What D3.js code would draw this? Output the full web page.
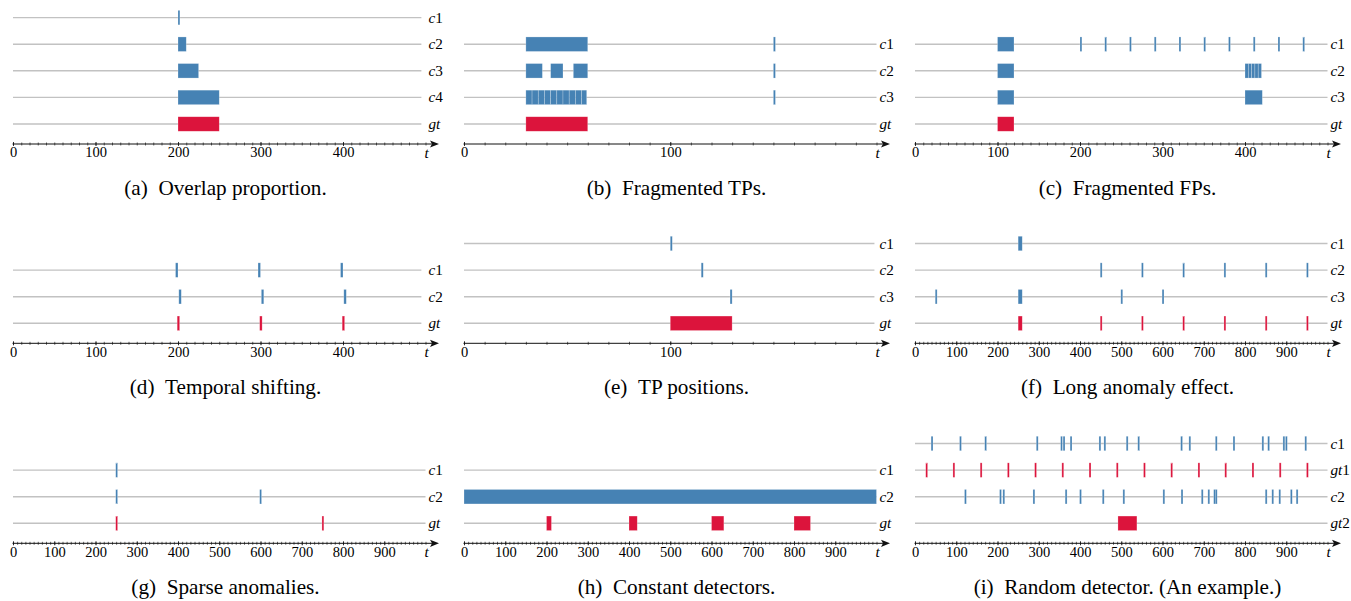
<!DOCTYPE html>
<html>
<head>
<meta charset="utf-8">
<script src="https://cdn.jsdelivr.net/npm/d3@7"></script>
<style>
  body { margin: 0; background: #fff; }
  svg text { font-family: "Liberation Serif", "Times New Roman", Times, serif; }
</style>
</head>
<body>
<svg id="chart" width="1351" height="601"></svg>
<script>
// ---- data ----
const captionTags = ["(a)", "(b)", "(c)", "(d)", "(e)", "(f)", "(g)", "(h)", "(i)"];
const captionTexts = ["Overlap proportion.", "Fragmented TPs.", "Fragmented FPs.",
                      "Temporal shifting.", "TP positions.", "Long anomaly effect.",
                      "Sparse anomalies.", "Constant detectors.", "Random detector. (An example.)"];

// time axis length and where the grey row lines stop
const axisMax = [500, 200, 500, 500, 200, 1000, 1000, 1000, 1000];
const lineEnd = [495, 200, 500, 495, 199, 1000, 1000, 1000, 1000];

const ticks500 = [0, 100, 200, 300, 400];
const ticks200 = [0, 100];
const ticks1000 = [0, 100, 200, 300, 400, 500, 600, 700, 800, 900];
const tickLabels = [ticks500, ticks200, ticks500, ticks500, ticks200, ticks1000, ticks1000, ticks1000, ticks1000];

const rowsA = ["c1", "c2", "c3", "c4", "gt"];
const rowsB = ["c1", "c2", "c3", "gt"];
const rowsC = ["c1", "c2", "c3", "gt"];
const rowsD = ["c1", "c2", "gt"];
const rowsE = ["c1", "c2", "c3", "gt"];
const rowsF = ["c1", "c2", "c3", "gt"];
const rowsG = ["c1", "c2", "gt"];
const rowsH = ["c1", "c2", "gt"];
const rowsI = ["c1", "gt1", "c2", "gt2"];

// detections per row as [start, end] intervals
const marksA = [
  [[200, 201]],
  [[200, 210]],
  [[200, 225]],
  [[200, 250]],
  [[200, 250]]
];
const marksB = [
  [[30, 60], [150, 151]],
  [[30, 38], [42, 48], [53, 60], [150, 151]],
  [[30, 33], [33, 36], [36, 39], [39, 42], [42, 45], [45, 48], [48, 51], [51, 54], [54, 57], [57, 59.5], [150, 151]],
  [[30, 60]]
];
const marksC = [
  [[100, 120], [200, 201], [230, 231], [260, 261], [290, 291], [320, 321], [350, 351], [380, 381], [410, 411], [440, 441], [470, 471]],
  [[100, 120], [400, 404], [404, 408], [408, 412], [412, 416], [416, 420]],
  [[100, 120], [400, 421]],
  [[100, 120]]
];
const marksD = [
  [[197, 200], [297, 300], [397, 400]],
  [[201, 204], [301, 304], [401, 404]],
  [[199, 202], [299, 302], [399, 402]]
];
const marksE = [
  [[100, 101]],
  [[115, 116]],
  [[129, 130]],
  [[100, 130]]
];
const marksF = [
  [[250, 260]],
  [[449, 452], [549, 552], [649, 652], [749, 752], [849, 852], [949, 952]],
  [[49, 52], [250, 260], [499, 502], [599, 602]],
  [[250, 260], [449, 452], [549, 552], [649, 652], [749, 752], [849, 852], [949, 952]]
];
const marksG = [
  [[249, 252]],
  [[249, 252], [598, 602]],
  [[249, 252], [749, 752]]
];
const marksH = [
  [],
  [[0, 1000]],
  [[200, 212], [400, 420], [600, 630], [800, 840]]
];
const marksI = [
  [[39, 42], [108, 111], [169, 172], [294, 297], [353, 356], [359, 362], [376, 379], [446, 449], [458, 461], [512, 515],
   [540, 543], [644, 647], [664, 667], [728, 731], [771, 774], [841, 844], [855, 858], [892, 895], [898, 901], [945, 948]],
  [[26, 29], [92, 95], [158, 161], [224, 227], [290, 293], [356, 359], [422, 425], [488, 491], [554, 557], [620, 623],
   [686, 689], [751, 754], [817, 820], [883, 886], [949, 952]],
  [[120, 123], [205, 208], [213, 216], [286, 289], [364, 367], [399, 402], [454, 457], [504, 507], [601, 604], [645, 648],
   [694, 697], [710, 713], [724, 727], [728, 731], [849, 852], [865, 868], [882, 885], [910, 913], [924, 927]],
  [[492, 538]]
];

const panelRows = [rowsA, rowsB, rowsC, rowsD, rowsE, rowsF, rowsG, rowsH, rowsI];
const panelMarks = [marksA, marksB, marksC, marksD, marksE, marksF, marksG, marksH, marksI];

// ---- layout ----
const colX0 = [13, 464, 915];
const colMid = [225.5, 676.5, 1127.5];
const axisY = [144, 343.3, 543.3];
const plotW = 412.5;
const rowGap = 26.6;
const gtOffset = 20;
const barH = 14.5;
const blue = "#4682b4", red = "#dc143c";

const svg = d3.select("#chart");

panelRows.forEach((rows, k) => {
  const col = k % 3, r = Math.floor(k / 3);
  const x0 = colX0[col], ay = axisY[r];
  const x = d3.scaleLinear().domain([0, axisMax[k]]).range([x0, x0 + plotW]);
  const n = rows.length;
  const rowY = i => ay - gtOffset - (n - 1 - i) * rowGap;
  const g = svg.append("g");

  // grey row lines
  g.append("g").selectAll("line")
    .data(rows)
    .join("line")
    .attr("x1", x(0))
    .attr("x2", x(lineEnd[k]))
    .attr("y1", (d, i) => rowY(i))
    .attr("y2", (d, i) => rowY(i))
    .attr("stroke", "#c2c2c2")
    .attr("stroke-width", 1.4);

  // detection / ground truth marks
  rows.forEach((name, i) => {
    const isGt = name.startsWith("gt");
    g.append("g").selectAll("rect")
      .data(panelMarks[k][i])
      .join("rect")
      .attr("x", d => x(d[0]))
      .attr("width", d => Math.max(x(d[1]) - x(d[0]), 1.9))
      .attr("y", rowY(i) - barH / 2)
      .attr("height", barH)
      .attr("fill", isGt ? red : blue)
      .attr("stroke", "rgba(255,255,255,0.4)")
      .attr("stroke-width", 0.6);
  });

  // row labels
  rows.forEach((name, i) => {
    const m = name.match(/^([a-z]+)(\d*)$/);
    const t = g.append("text")
      .attr("x", x0 + 415.5)
      .attr("y", rowY(i) + 5)
      .attr("font-size", 15.2)
      .attr("fill", "#000");
    t.append("tspan").attr("font-style", "italic").text(m[1]);
    if (m[2]) t.append("tspan").text(m[2]);
  });

  // time axis: minor ticks, major ticks with labels, arrow line
  const minor = d3.range(0, axisMax[k] + 1, 10);
  g.append("g")
    .attr("transform", `translate(0,${ay - 1.5})`)
    .call(d3.axisBottom(x).tickValues(minor).tickSize(3).tickFormat(""))
    .call(a => a.select(".domain").remove())
    .selectAll("line").attr("stroke", "#222").attr("stroke-width", 0.7);

  const major = g.append("g")
    .attr("transform", `translate(0,${ay - 2})`)
    .call(d3.axisBottom(x).tickValues(tickLabels[k]).tickSize(4).tickPadding(1).tickFormat(d3.format("d")))
    .call(a => a.select(".domain").remove());
  major.attr("font-family", null).attr("font-size", 14.5);
  major.selectAll("line").attr("stroke", "#111").attr("stroke-width", 0.8);
  major.selectAll("text").attr("fill", "#000");

  g.append("line")
    .attr("x1", x0 - 0.5)
    .attr("x2", x0 + 419)
    .attr("y1", ay).attr("y2", ay)
    .attr("stroke", "#111")
    .attr("stroke-width", 1);
  g.append("path")
    .attr("d", `M${x0 + 426},${ay} L${x0 + 417},${ay - 3.6} L${x0 + 419},${ay} L${x0 + 417},${ay + 3.6} Z`)
    .attr("fill", "#111");

  g.append("text")
    .attr("x", x0 + 413.5)
    .attr("y", ay + 13.5)
    .attr("text-anchor", "middle")
    .attr("font-size", 15.2)
    .attr("font-style", "italic")
    .attr("fill", "#000")
    .text("t");

  // caption
  svg.append("text")
    .attr("x", colMid[col])
    .attr("y", ay + 51)
    .attr("text-anchor", "middle")
    .attr("font-size", 21.2)
    .attr("fill", "#000")
    .text(captionTags[k] + "\u00a0\u00a0" + captionTexts[k]);
});
</script>
</body>
</html>
